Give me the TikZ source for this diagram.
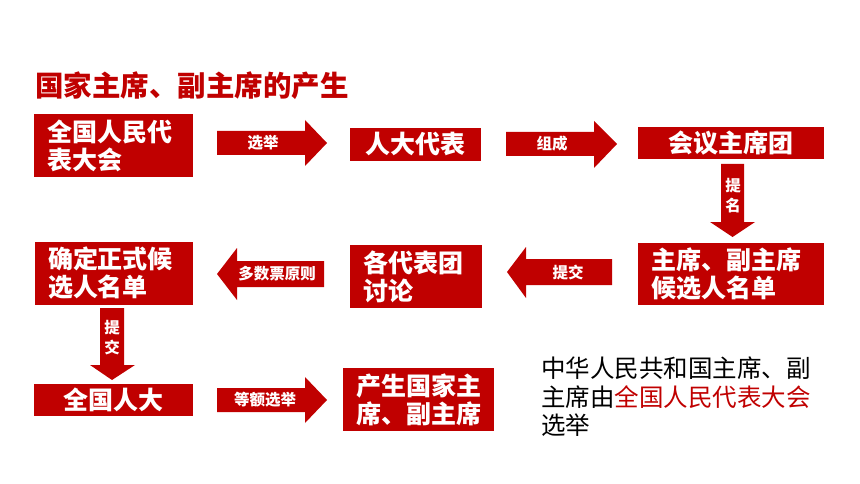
\documentclass[tikz,border=0pt]{standalone}
\usepackage{xcolor}
\usepackage{fontspec}
\newfontfamily\cjk{Noto Sans CJK SC}
\usepackage{tikz}
\usetikzlibrary{positioning}
\definecolor{zhred}{HTML}{C00000}

\begin{document}
\begin{tikzpicture}[x=1pt,y=-1pt,
  box/.style={fill=zhred, text=white, inner sep=0pt, font=\cjk\bfseries\fontsize{25}{28}\selectfont},
  leftbox/.style={box, align=left},
  blk/.style={fill=zhred},
  lbl/.style={text=white, inner sep=0pt, align=center, font=\cjk\bfseries\fontsize{15.5}{20}\selectfont}]
% \draw[help lines, dashed, red] (0,0) grid[step=20] (860,484);
\useasboundingbox (0,0) rectangle (860,484);
\node[anchor=west, inner sep=0pt, text=zhred, font=\cjk\bfseries\fontsize{28.5}{30}\selectfont] (title) at (35,86) {国家主席、副主席的产生};
\node[leftbox, minimum width=159, minimum height=63, text width=133] (quanguo) at (113.5,145.5) {全国人民代\\表大会};
\node[box, minimum width=131, minimum height=33] (daibiao) at (415.5,144.5) {人大代表};
\node[box, minimum width=186, minimum height=32] (zhuxituan) at (731,143) {会议主席团};
\node[leftbox, minimum width=186, minimum height=62, text width=160] (houxuan) at (731,274) {主席、副主席\\候选人名单};
\node[leftbox, minimum width=132, minimum height=63, text width=106] (taolun) at (416,276.5) {各代表团\\讨论};
\node[leftbox, minimum width=158, minimum height=63, text width=132] (queding) at (114,273.5) {确定正式候\\选人名单};
\node[box, minimum width=159, minimum height=32] (renda) at (113.5,400) {全国人大};
\node[leftbox, minimum width=151, minimum height=63, text width=125] (chansheng) at (418.5,399.5) {产生国家主\\席、副主席};
\fill[blk](217,131)--(305,131)--(305,120)--(327,143)--(305,166)--(305,155)--(217,155)--cycle;
\fill[blk](506,132)--(594,132)--(594,121)--(617,144)--(594,168)--(594,156)--(506,156)--cycle;
\fill[blk](721,164)--(744,164)--(744,222)--(755,222)--(732.5,237)--(710,222)--(721,222)--cycle;
\fill[blk](612,259)--(526,259)--(526,247)--(507,272)--(526,298)--(526,285)--(612,285)--cycle;
\fill[blk](324,261)--(237,261)--(237,248)--(217,274)--(237,300)--(237,287)--(324,287)--cycle;
\fill[blk](100,308)--(124,308)--(124,365)--(135,365)--(112,380)--(90,365)--(100,365)--cycle;
\fill[blk](217,388)--(305,388)--(305,377)--(327,400)--(305,423)--(305,412)--(217,412)--cycle;
\node[lbl] (xuanju) at (263,143) {选举};
\node[lbl] (zucheng) at (552,144) {组成};
\node[lbl] (timing) at (733,196) {提\\名};
\node[lbl] (tijiao) at (568,272) {提交};
\node[lbl] (duoshu) at (277,274) {多数票原则};
\node[lbl] (tijiaob) at (112,338) {提\\交};
\node[lbl] (deng) at (265,400) {等额选举};
\node[anchor=west, inner sep=0pt, align=left, font=\cjk\fontsize{24.5}{28.5}\selectfont] (note) at (541,397) {中华人民共和国主席、副\\主席由\textcolor{zhred}{全国人民代表大会}\\选举};
\end{tikzpicture}
\end{document}
